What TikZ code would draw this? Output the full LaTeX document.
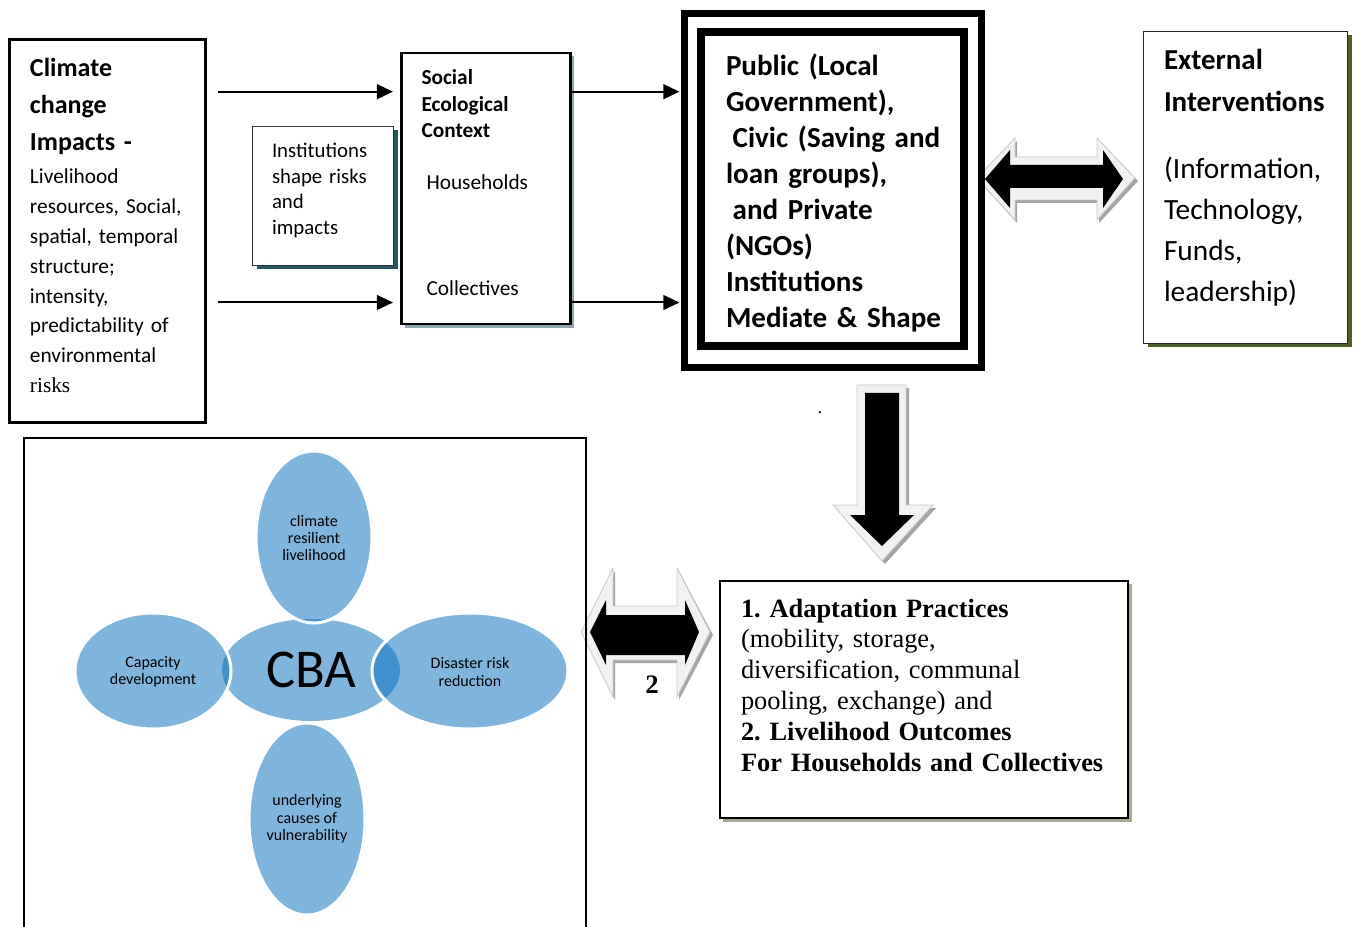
\documentclass[tikz,border=0pt]{standalone}
\usepackage{fontspec}
\setmainfont{Carlito}
\newfontfamily\tnr{Liberation Serif}
\usetikzlibrary{arrows.meta,fit}
\definecolor{lb}{RGB}{127,180,221}
\definecolor{db}{RGB}{64,145,205}
\definecolor{tealsh}{RGB}{33,88,104}
\definecolor{graysh}{RGB}{140,165,175}
\definecolor{olivesh}{RGB}{79,98,40}
\definecolor{khakish}{RGB}{165,170,140}
\definecolor{arrlight}{RGB}{242,242,242}
\definecolor{arredge}{RGB}{200,200,200}
\definecolor{arrshade}{RGB}{165,165,165}
\frenchspacing
\begin{document}
\frenchspacing
\begin{tikzpicture}[x=0.75pt,y=-0.75pt,
  box/.style={draw, fill=white, inner sep=0pt, outer sep=0pt},
  txt/.style={anchor=base west, inner sep=0pt, outer sep=0pt, align=left, text width=#1},
  ptxt/.style={align=center, inner sep=0pt, font=\fontsize{12}{13}\selectfont},
  arr/.style={line width=1.5pt, -{Triangle[length=12pt,width=11pt]}},
  blockout/.style={fill=arrlight, draw=arredge, line width=0.6pt},
  blockshade/.style={fill=arrshade},
  blockin/.style={fill=black},
  petal/.style={fill=lb},
  petalline/.style={draw=white, line width=2.25pt}
]
\useasboundingbox (0,0) rectangle (1354,927);

% ---------- Climate change box
\node[box, line width=1.9pt, fit={(9.5,39.5) (205.5,422.5)}] (A) {};
\node[txt=180pt, font=\fontsize{19.5}{27.75}\selectfont\bfseries] (Atitle) at (30,77) {Climate\\change\\Impacts -};
\node[txt=180pt, font=\fontsize{16}{22.35}\selectfont] (Abody) at (30,184) {Livelihood\\resources, Social,\\spatial, temporal\\structure;\\intensity,\\predictability of\\environmental\\{\tnr risks}};

% ---------- Institutions box
\fill[tealsh] (256.5,130.5) rectangle (397.5,269.5);
\node[box, draw=black!80, line width=0.9pt, fit={(252.5,126.5) (393.5,265.5)}] (I) {};
\node[txt=120pt, font=\fontsize{15.6}{19.1}\selectfont] (Itext) at (272,158) {Institutions\\shape risks\\and\\impacts};

% ---------- Social Ecological Context box
\fill[graysh] (404.5,56) rectangle (574,328);
\node[box, line width=2pt, fit={(401.5,53) (570.5,324)}] (S) {};
\node[txt=120pt, font=\fontsize{16}{19.7}\selectfont\bfseries] (Stitle) at (421.5,85) {Social\\Ecological\\Context};
\node[txt=120pt, font=\fontsize{16}{19.7}\selectfont] (hh) at (426.5,189.5) {Households};
\node[txt=120pt, font=\fontsize{16}{19.7}\selectfont] (coll) at (426.5,295.5) {Collectives};

% ---------- top-right double block arrow
\fill[blockshade] (979,181) -- (1017,141) -- (1017,160) -- (1099,160) -- (1099,141) -- (1138,181) -- (1099,223) -- (1099,203) -- (1017,203) -- (1017,223) -- cycle;
\path[blockout] (977,178) -- (1015,138) -- (1015,157) -- (1097,157) -- (1097,138) -- (1135,178) -- (1097,220) -- (1097,200) -- (1015,200) -- (1015,220) -- cycle;
\fill[blockin] (985,179) -- (1010,150) -- (1010,165) -- (1103,165) -- (1103,150) -- (1123,179) -- (1103,208) -- (1103,188) -- (1010,188) -- (1010,208) -- cycle;

% ---------- Institutions mediate box (double frame)
\node[draw, fill=white, line width=5.25pt, inner sep=0pt, outer sep=0pt, fit={(684,13.5) (981.5,367.5)}] (B) {};
\node[draw, line width=6pt, inner sep=0pt, outer sep=0pt, fit={(701,32.5) (964,346)}] (Bin) {};
\node[txt=260pt, font=\fontsize{21.8}{26.9}\selectfont\bfseries] (Btext) at (726,76) {Public (Local\\Government),\\\hspace*{0.23em}Civic (Saving and\\loan groups),\\\hspace*{0.23em}and Private\\(NGOs)\\Institutions\\Mediate \& Shape};

% ---------- External interventions box
\fill[olivesh] (1147.5,35.5) rectangle (1351.5,347.5);
\node[box, draw=black!85, line width=1pt, fit={(1143.5,31.5) (1347.5,343.5)}] (E) {};
\node[txt=160pt, font=\fontsize{21.7}{31.5}\selectfont\bfseries] (Etitle) at (1164,70) {External\\Interventions};
\node[txt=160pt, font=\fontsize{22}{30.75}\selectfont] (Ebody) at (1164,179) {(Information,\\Technology,\\Funds,\\leadership)};

% ---------- arrows in top row
\coordinate (r1) at (218,91.7);
\coordinate (r2) at (218,302.5);
\draw[arr, shorten >=6.4pt] (r1) -- (r1 -| S.west);
\draw[arr, shorten >=6.4pt] (r2) -- (r2 -| S.west);
\draw[arr, shorten >=3.4pt] (r1 -| S.east) -- (r1 -| B.west);
\draw[arr, shorten >=3.4pt] (r2 -| S.east) -- (r2 -| B.west);

% ---------- dot
\node[inner sep=0pt, anchor=base, font=\tnr\fontsize{14}{14}\selectfont] (dot) at (820,413) {.};

% ---------- down block arrow
\fill[blockshade] (860,388) -- (909,388) -- (909,508) -- (936,508) -- (885,564) -- (836,508) -- (860,508) -- cycle;
\path[blockout] (857,385) -- (906,385) -- (906,505) -- (933,505) -- (882,561) -- (833,505) -- (857,505) -- cycle;
\fill[blockin] (865,393) -- (899,393) -- (899,515) -- (914,515) -- (882,546) -- (850,515) -- (865,515) -- cycle;

% ---------- outcomes box
\fill[khakish] (723,584) rectangle (1131.5,821.5);
\node[box, line width=1.9pt, fit={(720,581) (1128,818)}] (O) {};
\node[txt=300pt, font=\tnr\fontsize{19.8}{23.1}\selectfont] (Otext) at (741,617) {\textbf{1. Adaptation Practices}\\(mobility, storage,\\diversification, communal\\pooling, exchange) and\\\textbf{2. Livelihood Outcomes}\\\textbf{For Households and Collectives}};

% ---------- CBA cluster
\fill[lb] (311,670) ellipse [x radius=66.75pt, y radius=38.25pt];
\fill[petal] (314,537) ellipse [x radius=43.5pt, y radius=64.5pt];
\fill[petal] (153,671) ellipse [x radius=58.5pt, y radius=43.5pt];
\fill[petal] (470,671) ellipse [x radius=73.5pt, y radius=43.5pt];
\fill[petal] (307,819) ellipse [x radius=43.5pt, y radius=72pt];
\begin{scope}
  \clip (311,670) ellipse [x radius=66.75pt, y radius=38.25pt];
  \fill[db] (314,537) ellipse [x radius=43.5pt, y radius=64.5pt];
  \fill[db] (153,671) ellipse [x radius=58.5pt, y radius=43.5pt];
  \fill[db] (470,671) ellipse [x radius=73.5pt, y radius=43.5pt];
\end{scope}
\path[petalline] (314,537) ellipse [x radius=43.5pt, y radius=64.5pt];
\path[petalline] (153,671) ellipse [x radius=58.5pt, y radius=43.5pt];
\path[petalline] (470,671) ellipse [x radius=73.5pt, y radius=43.5pt];
\path[petalline] (307,819) ellipse [x radius=43.5pt, y radius=72pt];
\node[inner sep=0pt, font=\fontsize{41}{41}\selectfont] (cba) at (311,670) {CBA};
\node[ptxt] (tp) at (314,538) {climate\\resilient\\livelihood};
\node[ptxt] (lp) at (153,672) {Capacity\\development};
\node[ptxt] (rp) at (470,672) {Disaster risk\\reduction};
\node[ptxt] (bp) at (307,819) {underlying\\causes of\\vulnerability};

% ---------- middle double block arrow
\fill[blockshade] (583,635) -- (615,571) -- (615,609) -- (679,609) -- (679,571) -- (713,635) -- (679,700) -- (679,663) -- (615,663) -- (615,700) -- cycle;
\path[blockout] (581,632) -- (613,568) -- (613,606) -- (677,606) -- (677,568) -- (710,632) -- (677,697) -- (677,660) -- (613,660) -- (613,697) -- cycle;
\fill[blockin] (590,632) -- (606,600) -- (606,615) -- (685,615) -- (685,600) -- (699,632) -- (685,665) -- (685,655) -- (606,655) -- (606,665) -- cycle;
\node[inner sep=0pt, anchor=base, font=\tnr\bfseries\fontsize{20}{20}\selectfont] (two) at (652,693) {2};

% ---------- CBA frame (open at the bottom)
\draw[line width=1.1pt] (24,927) |- (586,438) -- (586,927);
\end{tikzpicture}
\end{document}
